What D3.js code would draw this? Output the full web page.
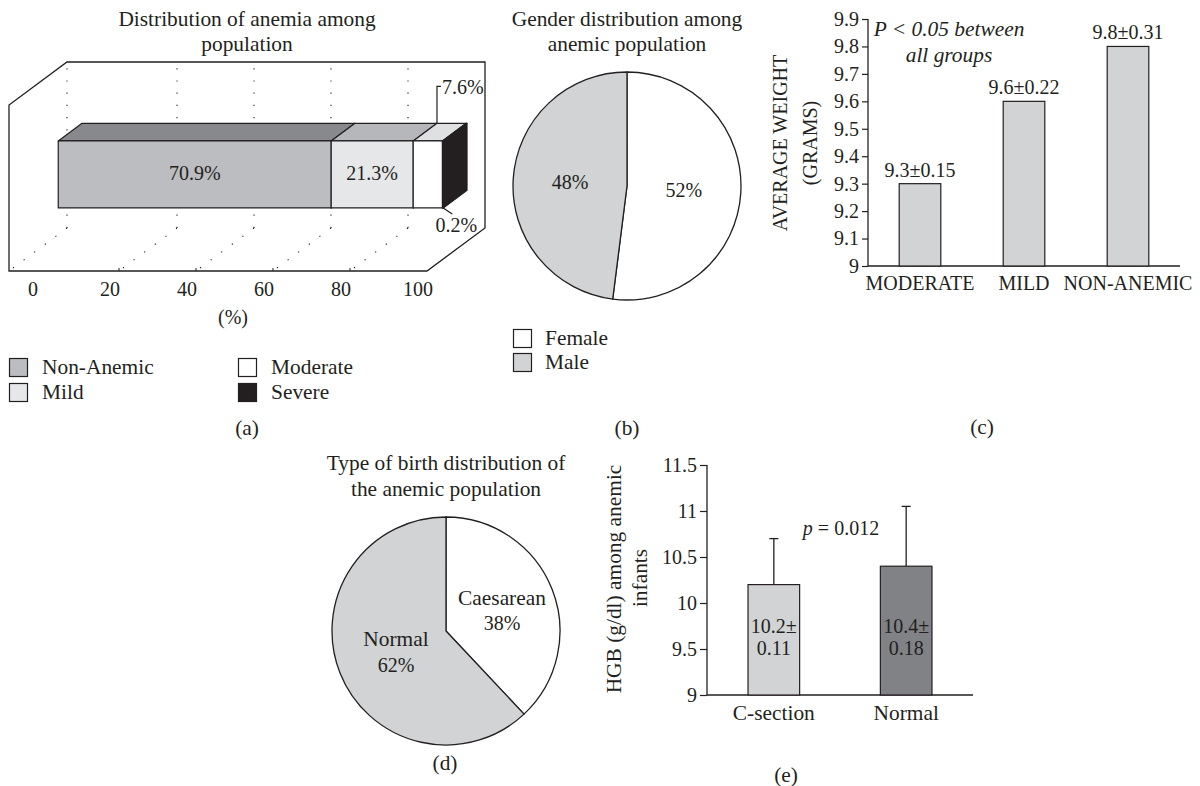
<!DOCTYPE html>
<html>
<head>
<meta charset="utf-8">
<script src="https://cdn.jsdelivr.net/npm/d3@7/dist/d3.min.js"></script>
<style>
  html, body { margin: 0; padding: 0; background: #ffffff; }
  svg { display: block; }
  text { font-family: "Liberation Serif", "Times New Roman", serif; fill: #231f20; }
</style>
</head>
<body>
<svg id="fig" width="1200" height="786"></svg>
<script>
// ---- data ----
const anemiaCategories = ["Non-Anemic", "Mild", "Moderate", "Severe"];
const anemiaPercent = [70.9, 21.3, 7.6, 0.2];
const anemiaTicks = [0, 20, 40, 60, 80, 100];

const genderCategories = ["Female", "Male"];
const genderPercent = [52, 48];

const weightCategories = ["MODERATE", "MILD", "NON-ANEMIC"];
const weightMean = [9.3, 9.6, 9.8];
const weightSd = [0.15, 0.22, 0.31];
const weightTicks = [9, 9.1, 9.2, 9.3, 9.4, 9.5, 9.6, 9.7, 9.8, 9.9];

const birthCategories = ["Caesarean", "Normal"];
const birthPercent = [38, 62];

const hgbCategories = ["C-section", "Normal"];
const hgbMean = [10.2, 10.4];
const hgbSd = [0.11, 0.18];
const hgbWhiskerTop = [10.7, 11.05];
const hgbTicks = [9, 9.5, 10, 10.5, 11, 11.5];

// ---- styling ----
const INK = "#231f20";
const FS = 20;      // numbers and capitals
const WFS = 21.4;   // running text
const svg = d3.select("#fig");
svg.append("rect").attr("width", 1200).attr("height", 786).attr("fill", "#fff");

function label(g, x, y, str, opts = {}) {
  return g.append("text")
    .attr("x", x).attr("y", y).attr("dy", "0.35em")
    .attr("text-anchor", opts.anchor || "middle")
    .attr("font-size", opts.size || FS)
    .attr("font-style", opts.italic ? "italic" : null)
    .text(str);
}

// =========================================================
// (a) 3-D stacked bar: distribution of anemia
// =========================================================
(function () {
  const g = svg.append("g");
  const xA = d3.scaleLinear().domain([0, 100]).range([42, 427]);
  const FLOOR_Y = 271, DX = 58, DY = 43, WALL_H = 166;
  const xMin = xA.invert(9);
  const proj = (v, z, h) => [xA(v) + z * DX, FLOOR_Y - z * DY - h];
  const line = d3.line();

  // walls outline
  g.append("path")
    .attr("d", line([proj(xMin, 0, 0), proj(xMin, 0, WALL_H), proj(xMin, 1, WALL_H),
                     proj(100, 1, WALL_H), proj(100, 1, 0), proj(100, 0, 0)]) + "Z")
    .attr("fill", "#fff").attr("stroke", INK).attr("stroke-width", 1.3);

  // dotted gridlines on back wall and floor
  const gridVals = [xMin].concat(anemiaTicks.filter(v => v > 0 && v < 100));
  gridVals.forEach(v => {
    g.append("path").attr("d", line([proj(v, 1, 0), proj(v, 1, WALL_H)]))
      .attr("stroke", INK).attr("stroke-width", 1.1).attr("stroke-dasharray", "1.2 11")
      .attr("fill", "none");
    g.append("path").attr("d", line([proj(v, 1, 0), proj(v, 0, 0)]))
      .attr("stroke", INK).attr("stroke-width", 1.1).attr("stroke-dasharray", "1.2 12")
      .attr("fill", "none");
  });

  // small tick marks on the front floor edge
  anemiaTicks.filter(v => v > 0 && v < 100).forEach(v => {
    const p = proj(v, 0, 0);
    g.append("line").attr("x1", p[0]).attr("x2", p[0]).attr("y1", p[1]).attr("y2", p[1] - 3)
      .attr("stroke", INK).attr("stroke-width", 1);
  });

  // axis labels
  anemiaTicks.forEach(v => label(g, xA(v) - 9, 289, String(v)));
  label(g, 233, 317, "(%)");

  // stacked bar
  const zF = 0.28, zB = 0.69, h0 = 51, h1 = 118;
  const frontFill = ["#bcbdc0", "#e6e7e8", "#ffffff", "#231f20"];
  const topFill = ["#88898c", "#b6b7ba", "#dfe0e2", "#231f20"];
  const sideFill = ["#6d6e71", "#939598", "#bcbec0", "#231f20"];
  const starts = [];
  let acc = 0;
  anemiaPercent.forEach(p => { starts.push(acc); acc += p; });
  const segs = anemiaPercent.map((p, i) => ({ a: starts[i], b: starts[i] + p, i }));

  segs.forEach(s => {
    // right side face
    g.append("path")
      .attr("d", line([proj(s.b, zF, h0), proj(s.b, zB, h0), proj(s.b, zB, h1), proj(s.b, zF, h1)]) + "Z")
      .attr("fill", sideFill[s.i]).attr("stroke", INK).attr("stroke-width", 1.2).attr("stroke-linejoin", "round");
    // top face
    g.append("path")
      .attr("d", line([proj(s.a, zF, h1), proj(s.b, zF, h1), proj(s.b, zB, h1), proj(s.a, zB, h1)]) + "Z")
      .attr("fill", topFill[s.i]).attr("stroke", INK).attr("stroke-width", 1.2).attr("stroke-linejoin", "round");
    // front face
    g.append("path")
      .attr("d", line([proj(s.a, zF, h0), proj(s.b, zF, h0), proj(s.b, zF, h1), proj(s.a, zF, h1)]) + "Z")
      .attr("fill", frontFill[s.i]).attr("stroke", INK).attr("stroke-width", 1.2).attr("stroke-linejoin", "round");
  });

  // value labels inside the two wide segments
  segs.slice(0, 2).forEach(s => {
    const pa = proj(s.a, zF, (h0 + h1) / 2), pb = proj(s.b, zF, (h0 + h1) / 2);
    label(g, (pa[0] + pb[0]) / 2, pa[1] - 1, anemiaPercent[s.i] + "%");
  });

  // callout for the moderate segment (top)
  const m = segs[2];
  const c0 = proj(m.a, zB, h1);
  g.append("path")
    .attr("d", line([c0, [c0[0], c0[1] - 37], [c0[0] + 4, c0[1] - 37]]))
    .attr("fill", "none").attr("stroke", INK).attr("stroke-width", 1.2);
  label(g, c0[0] + 5, c0[1] - 36, anemiaPercent[2] + "%", { anchor: "start" });

  // callout for the severe segment (bottom)
  const sv = segs[3];
  const c1 = proj(sv.b, zF, h0);
  g.append("path")
    .attr("d", line([c1, [c1[0] + 9, c1[1] + 6]]))
    .attr("fill", "none").attr("stroke", INK).attr("stroke-width", 1.2);
  label(g, c1[0] + 13, c1[1] + 17, anemiaPercent[3] + "%");

  // titles
  label(g, 247, 19, "Distribution of anemia among", { size: WFS });
  label(g, 247, 44, "population", { size: WFS });

  // legend
  const legendPos = [[9, 358], [9, 383], [238, 358], [238, 383]];
  anemiaCategories.forEach((c, i) => {
    const [lx, ly] = legendPos[i];
    g.append("rect").attr("x", lx + 0.5).attr("y", ly + 0.5).attr("width", 18).attr("height", 18)
      .attr("fill", frontFill[i]).attr("stroke", INK).attr("stroke-width", 1.2);
    label(g, lx + 33, ly + 9, c, { anchor: "start", size: WFS });
  });
  label(g, 247, 428, "(a)", { size: WFS });
})();

// =========================================================
// pie helper for (b) and (d)
// =========================================================
function drawPie(cx, cy, r, values, fills) {
  const g = svg.append("g").attr("transform", `translate(${cx},${cy})`);
  const arcs = d3.pie().sort(null)(values);
  const arc = d3.arc().innerRadius(0).outerRadius(r);
  g.selectAll("path").data(arcs).join("path")
    .attr("d", arc)
    .attr("fill", (d, i) => fills[i])
    .attr("stroke", INK).attr("stroke-width", 1.3).attr("stroke-linejoin", "round");
  return { g, arcs, arc };
}

// =========================================================
// (b) gender pie
// =========================================================
(function () {
  const fills = ["#ffffff", "#d1d3d4"];
  const { g, arcs, arc } = drawPie(627, 186, 114, genderPercent, fills);
  arcs.forEach((a, i) => {
    const [x, y] = arc.centroid(a);
    label(g, x, y, genderPercent[i] + "%");
  });
  label(svg, 627, 19, "Gender distribution among", { size: WFS });
  label(svg, 627, 44, "anemic population", { size: WFS });
  genderCategories.forEach((c, i) => {
    const ly = 329 + i * 24;
    svg.append("rect").attr("x", 513.5).attr("y", ly + 0.5).attr("width", 18).attr("height", 18)
      .attr("fill", fills[i]).attr("stroke", INK).attr("stroke-width", 1.2);
    label(svg, 545, ly + 9, c, { anchor: "start", size: WFS });
  });
  label(svg, 627, 428, "(b)", { size: WFS });
})();

// =========================================================
// (c) average weight bars
// =========================================================
(function () {
  const g = svg.append("g");
  const y = d3.scaleLinear().domain([9, 9.9]).range([266, 19]);
  const x = d3.scaleBand().domain(weightCategories).range([868, 1180])
    .paddingInner(0.6).paddingOuter(0.3);

  const ay = g.append("g").attr("transform", "translate(868,0)")
    .call(d3.axisLeft(y).tickValues(weightTicks).tickSize(6).tickPadding(3).tickFormat(d => String(d)));
  ay.select(".domain").attr("stroke", INK).attr("stroke-width", 1.3).attr("d", "M0,266V19");
  ay.selectAll(".tick line").attr("stroke", INK).attr("stroke-width", 1.2);
  ay.selectAll(".tick text").attr("font-size", FS).attr("font-family", "Liberation Serif").attr("fill", INK);

  g.append("line").attr("x1", 868).attr("x2", 1180).attr("y1", y(9)).attr("y2", y(9))
    .attr("stroke", INK).attr("stroke-width", 1.3);

  g.selectAll("rect.bar").data(weightCategories).join("rect").attr("class", "bar")
    .attr("x", d => x(d)).attr("width", x.bandwidth())
    .attr("y", (d, i) => y(weightMean[i])).attr("height", (d, i) => y(9) - y(weightMean[i]))
    .attr("fill", "#d1d3d4").attr("stroke", INK).attr("stroke-width", 1.2);

  weightCategories.forEach((c, i) => {
    const cx = x(c) + x.bandwidth() / 2;
    label(g, cx, y(weightMean[i]) - 14, `${weightMean[i]}±${weightSd[i]}`);
    label(g, cx, 283, c);
  });

  label(g, 949, 29, "P < 0.05 between", { italic: true, size: WFS });
  label(g, 949, 55, "all groups", { italic: true, size: WFS });

  g.append("text").attr("transform", "translate(780,143) rotate(-90)")
    .attr("text-anchor", "middle").attr("dy", "0.35em").attr("font-size", FS).text("AVERAGE WEIGHT");
  g.append("text").attr("transform", "translate(810,143) rotate(-90)")
    .attr("text-anchor", "middle").attr("dy", "0.35em").attr("font-size", FS).text("(GRAMS)");

  label(g, 982, 427, "(c)", { size: WFS });
})();

// =========================================================
// (d) type of birth pie
// =========================================================
(function () {
  const fills = ["#ffffff", "#d1d3d4"];
  const { g, arcs, arc } = drawPie(446, 631, 114, birthPercent, fills);
  arcs.forEach((a, i) => {
    const [x, y] = arc.centroid(a);
    label(g, x + 3, y - 13, birthCategories[i], { size: WFS });
    label(g, x + 3, y + 13, birthPercent[i] + "%");
  });
  label(svg, 446, 463, "Type of birth distribution of", { size: WFS });
  label(svg, 446, 489, "the anemic population", { size: WFS });
  label(svg, 445, 763, "(d)", { size: WFS });
})();

// =========================================================
// (e) HGB by type of birth
// =========================================================
(function () {
  const g = svg.append("g");
  const y = d3.scaleLinear().domain([9, 11.5]).range([695, 465]);
  const x = d3.scaleBand().domain(hgbCategories).range([707, 973])
    .paddingInner(0.61).paddingOuter(0.31);
  const fills = ["#d1d3d4", "#808285"];

  const ay = g.append("g").attr("transform", "translate(707,0)")
    .call(d3.axisLeft(y).tickValues(hgbTicks).tickSize(7).tickPadding(3).tickFormat(d => String(d)));
  ay.select(".domain").attr("stroke", INK).attr("stroke-width", 1.3).attr("d", "M0,695V465");
  ay.selectAll(".tick line").attr("stroke", INK).attr("stroke-width", 1.2);
  ay.selectAll(".tick text").attr("font-size", FS).attr("font-family", "Liberation Serif").attr("fill", INK);

  g.append("line").attr("x1", 707).attr("x2", 973).attr("y1", y(9)).attr("y2", y(9))
    .attr("stroke", INK).attr("stroke-width", 1.3);

  hgbCategories.forEach((c, i) => {
    const bx = x(c), cx = bx + x.bandwidth() / 2;
    // whisker
    g.append("line").attr("x1", cx).attr("x2", cx).attr("y1", y(hgbMean[i])).attr("y2", y(hgbWhiskerTop[i]))
      .attr("stroke", INK).attr("stroke-width", 1.3);
    g.append("line").attr("x1", cx - 4.5).attr("x2", cx + 4.5).attr("y1", y(hgbWhiskerTop[i])).attr("y2", y(hgbWhiskerTop[i]))
      .attr("stroke", INK).attr("stroke-width", 1.3);
    // bar
    g.append("rect").attr("x", bx).attr("width", x.bandwidth())
      .attr("y", y(hgbMean[i])).attr("height", y(9) - y(hgbMean[i]))
      .attr("fill", fills[i]).attr("stroke", INK).attr("stroke-width", 1.2);
    label(g, cx, y(9) - 69, `${hgbMean[i]}±`);
    label(g, cx, y(9) - 47, String(hgbSd[i]));
    label(g, cx, 713, c, { size: WFS });
  });

  const pt = g.append("text").attr("x", 841).attr("y", 528).attr("dy", "0.35em")
    .attr("text-anchor", "middle").attr("font-size", FS);
  pt.append("tspan").attr("font-style", "italic").text("p");
  pt.append("tspan").text(" = 0.012");

  g.append("text").attr("transform", "translate(613,579) rotate(-90)")
    .attr("text-anchor", "middle").attr("dy", "0.35em").attr("font-size", WFS).text("HGB (g/dl) among anemic");
  g.append("text").attr("transform", "translate(639,578) rotate(-90)")
    .attr("text-anchor", "middle").attr("dy", "0.35em").attr("font-size", WFS).text("infants");

  label(g, 786, 775, "(e)", { size: WFS });
})();
</script>
</body>
</html>
